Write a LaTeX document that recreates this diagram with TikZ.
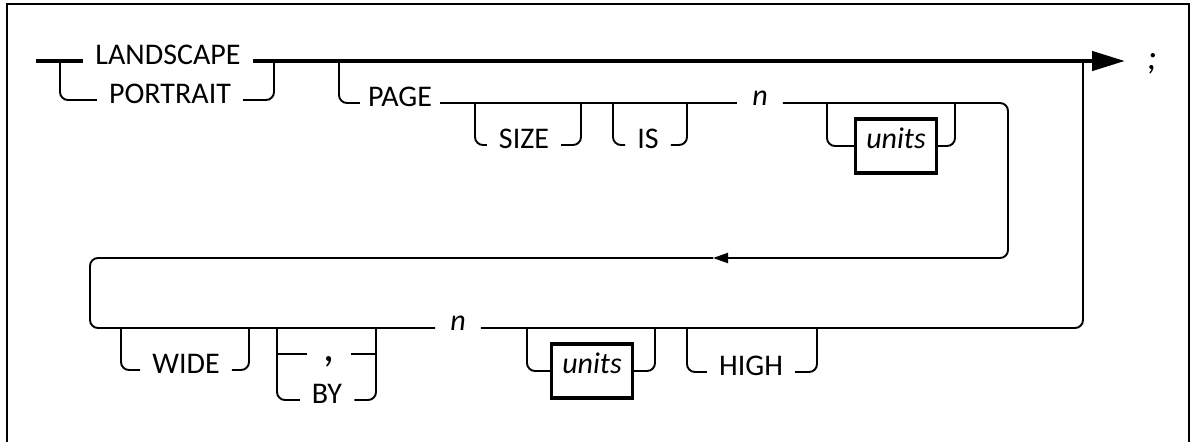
\documentclass[tikz,border=0pt]{standalone}
\usepackage{fontspec}
\setmainfont{Carlito}
\usetikzlibrary{arrows.meta}
\begin{document}
\begin{tikzpicture}[x=1pt,y=-1pt,
  every node/.style={font=\fontsize{30}{34}\selectfont, inner xsep=12pt, inner ysep=0pt},
  kw/.style={text height=0.644em, text depth=0pt},
  var/.style={text height=0.466em, text depth=0pt, font=\fontsize{30}{34}\selectfont\itshape},
  unitbox/.style={draw, line width=3.4pt, minimum width=81pt, minimum height=54pt, inner xsep=4pt,
    text height=0.466em, text depth=0pt, font=\fontsize{30}{34}\selectfont\itshape},
  rail/.style={line width=1.9pt, rounded corners=8pt},
  mainrail/.style={line width=4.5pt},
  frame/.style={line width=2pt}
]
\useasboundingbox (0,0) rectangle (1191,442);
\draw[frame] (7,442) -- (7,4) -- (1189,4) -- (1189,442);

% nodes
\node[kw] (landscape) at (168,61) {LANDSCAPE};
\node[kw] (portrait) at (170,100) {PORTRAIT};
\node[kw, inner xsep=8pt] (page) at (400,103) {PAGE};
\node[kw] (size) at (524,145) {SIZE};
\node[kw] (is) at (648,145) {IS};
\node[var, inner xsep=15pt] (n1) at (760,103) {n};
\node[unitbox] (units1) at (896,146) {units};
\node[anchor=base, font=\fontsize{36}{38}\selectfont\itshape, inner xsep=0pt] (semi) at (1152,69) {;};
\node[kw, inner xsep=16pt] (comma) at (329,354) {\raisebox{-4pt}{\fontsize{44}{44}\selectfont ,}};
\node[kw] (wide) at (186,370) {WIDE};
\node[kw] (by) at (327,400) {BY};
\node[var, inner xsep=15pt] (n2) at (458,328) {n};
\node[unitbox] (units2) at (592,371) {units};
\node[kw] (high) at (751,372) {HIGH};

% coordinates
\coordinate (s) at (36,61);
\coordinate (tip) at (1125,61);
\coordinate (b1) at (60,61);
\coordinate (j1) at (274,61);
\coordinate (b2) at (339,61);
\coordinate (sa) at (475,103);
\coordinate (sb) at (581,103);
\coordinate (ia) at (613,103);
\coordinate (ib) at (687,103);
\coordinate (ua) at (827,103);
\coordinate (ub) at (955,103);
\coordinate (r1) at (1008,103);
\coordinate (r2) at (1008,258);
\coordinate (m) at (713,258);
\coordinate (r3) at (90,258);
\coordinate (r4) at (90,328);
\coordinate (r5) at (1083,328);
\coordinate (r6) at (1083,61);
\coordinate (wa) at (121,328);
\coordinate (wb) at (249,328);
\coordinate (ca) at (277,328);
\coordinate (cb) at (376,328);
\coordinate (va) at (527,328);
\coordinate (vb) at (655,328);
\coordinate (ha) at (687,328);
\coordinate (hb) at (817,328);

% main line
\draw[mainrail] (s) -- (landscape.west);
\draw[mainrail, -{Triangle[length=33pt,width=19pt]}] (landscape.east) -- (tip);
\draw[rail] (b1) |- (portrait.west);
\draw[rail] (portrait.east) -| (j1);

% PAGE line
\draw[rail] (b2) |- (page.west);
\draw[rail] (page.east) -- (n1.west);
\draw[rail] (sa) |- (size.west);
\draw[rail] (size.east) -| (sb);
\draw[rail] (ia) |- (is.west);
\draw[rail] (is.east) -| (ib);
\draw[rail] (ua) |- (units1.west);
\draw[rail] (units1.east) -| (ub);
\draw[rail, -{Triangle[length=15pt,width=10pt]}] (n1.east) -- (r1) -- (r2) -- (m);
\draw[rail] (m) -- (r3) -- (r4) -- (n2.west);
\draw[rail] (n2.east) -- (r5) -- (r6);

% second row branches
\draw[rail] (wa) |- (wide.west);
\draw[rail] (wide.east) -| (wb);
\draw[rail] (ca) |- (by.west);
\draw[rail] (by.east) -| (cb);
\draw[rail] (ca |- comma.west) -- (comma.west);
\draw[rail] (comma.east) -- (cb |- comma.east);
\draw[rail] (va) |- (units2.west);
\draw[rail] (units2.east) -| (vb);
\draw[rail] (ha) |- (high.west);
\draw[rail] (high.east) -| (hb);
\end{tikzpicture}
\end{document}
